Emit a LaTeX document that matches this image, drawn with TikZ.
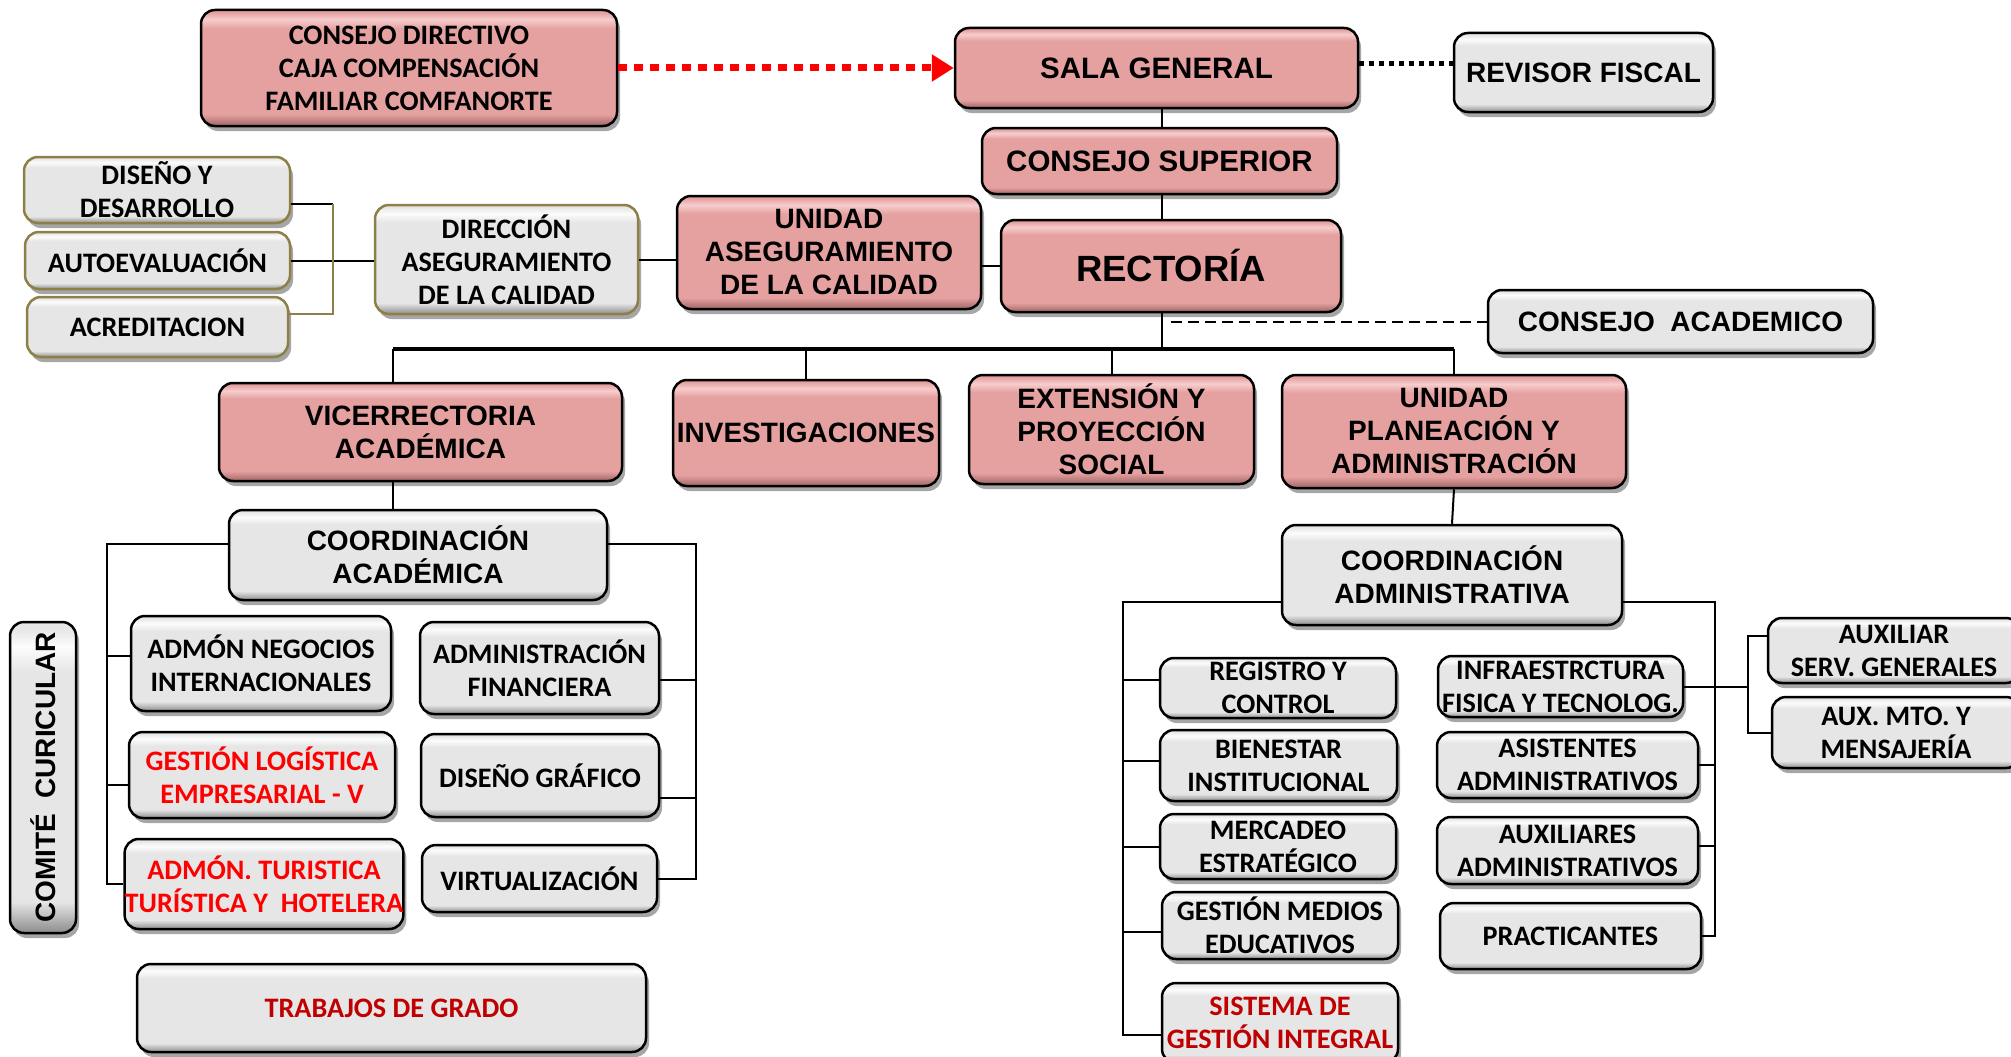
\documentclass[tikz,border=0pt]{standalone}
\usepackage{fontspec}
\newfontfamily\arialf{Liberation Sans}
\newfontfamily\calf{Carlito}
\usetikzlibrary{arrows.meta,shadows}

\definecolor{unitpink}{RGB}{229,160,160}
\definecolor{pinklight}{RGB}{247,205,205}
\definecolor{pinkdark}{RGB}{160,100,100}
\definecolor{unitgray}{RGB}{230,230,230}
\definecolor{graylight}{RGB}{252,252,252}
\definecolor{graydark}{RGB}{140,140,140}
\definecolor{qualline}{RGB}{140,128,72}
\definecolor{alertred}{RGB}{255,0,0}
\definecolor{darkred}{RGB}{192,0,0}

\pgfdeclareverticalshading{pinkbevel}{100bp}{color(0bp)=(pinkdark); color(25bp)=(pinkdark);
  color(30bp)=(unitpink); color(67bp)=(unitpink); color(71bp)=(pinklight); color(74bp)=(unitpink); color(100bp)=(unitpink)}
\pgfdeclareverticalshading{graybevel}{100bp}{color(0bp)=(graydark); color(25bp)=(graydark);
  color(30bp)=(unitgray); color(67bp)=(unitgray); color(71bp)=(graylight); color(74bp)=(unitgray); color(100bp)=(unitgray)}

\tikzset{
  unit/.style={draw=black, line width=2.5pt, rounded corners=14pt, align=center, inner sep=0pt,
    drop shadow={shadow xshift=3pt, shadow yshift=-5pt, opacity=.35, fill=black}},
  pinkunit/.style={unit, shading=pinkbevel},
  grayunit/.style={unit, shading=graybevel},
  qualunit/.style={grayunit, draw=qualline},
  ar/.style={font=\arialf\bfseries\fontsize{#1}{33}\selectfont}, ar/.default=28,
  ca/.style={font=\calf\bfseries\fontsize{#1}{33}\selectfont}, ca/.default=28.2,
  wh/.style 2 args={minimum width=#1pt, minimum height=#2pt},
  link/.style={line width=2pt},
  bus/.style={line width=4.5pt},
}

\begin{document}
\begin{tikzpicture}[x=1pt,y=-1pt]
\useasboundingbox (0,0) rectangle (2011,1057);
\fill[white] (0,0) rectangle (2011,1057);
\clip (0,0) rectangle (2011,1057);

% direccion general
\node[pinkunit, ca, wh={416}{116}] (directivo) at (409,68) {CONSEJO DIRECTIVO\\CAJA COMPENSACIÓN\\FAMILIAR COMFANORTE};
\node[pinkunit, ar=29.5, wh={403}{80}] (sala) at (1156.5,68) {SALA GENERAL};
\node[grayunit, ar, wh={259}{79}] (revisor) at (1583.5,72.5) {REVISOR FISCAL};
\node[pinkunit, ar=29.5, wh={355}{66}] (superior) at (1159.5,161) {CONSEJO SUPERIOR};
\node[pinkunit, ar=36.5, wh={340}{92}] (rectoria) at (1171,266) {RECTORÍA};
\node[grayunit, ar, wh={385}{63}] (academico) at (1680.5,321.5) {CONSEJO\ \ ACADEMICO};

% calidad
\node[pinkunit, ar, wh={304}{113}] (ucalidad) at (829,252.5) {UNIDAD\\ASEGURAMIENTO\\DE LA CALIDAD};
\node[qualunit, ca, wh={263}{109}] (dcalidad) at (506.5,259.5) {DIRECCIÓN\\ASEGURAMIENTO\\DE LA CALIDAD};
\node[qualunit, ca, wh={266}{66}] (diseno) at (157,190) {DISEÑO Y\\DESARROLLO};
\node[qualunit, ca, wh={265}{57}] (autoeval) at (157.5,260.5) {AUTOEVALUACIÓN};
\node[qualunit, ca, wh={261}{60}] (acredita) at (157.5,327) {ACREDITACION};

% segundo nivel
\node[pinkunit, ar, wh={403}{98}] (vice) at (420.5,432) {VICERRECTORIA\\ACADÉMICA};
\node[pinkunit, ar, wh={266}{106}] (invest) at (806,433) {INVESTIGACIONES};
\node[pinkunit, ar, wh={285}{109}] (extension) at (1111.5,429.5) {EXTENSIÓN Y\\PROYECCIÓN\\SOCIAL};
\node[pinkunit, ar, wh={344}{113}] (planea) at (1454,431.5) {UNIDAD\\PLANEACIÓN Y\\ADMINISTRACIÓN};

% area academica
\node[grayunit, ar, wh={378}{90}] (coordac) at (418,555) {COORDINACIÓN\\ACADÉMICA};
\node[grayunit, ca, wh={260}{95}] (negocios) at (261,663.5) {ADMÓN NEGOCIOS\\INTERNACIONALES};
\node[grayunit, ca, wh={266}{86}, text=alertred] (logistica) at (262,775) {GESTIÓN LOGÍSTICA\\EMPRESARIAL - V};
\node[grayunit, ca, wh={278}{90}, text=alertred] (turistica) at (264,884) {ADMÓN. TURISTICA\\TURÍSTICA Y\ \ HOTELERA};
\node[grayunit, ca, wh={239}{92}] (financiera) at (539.5,668) {ADMINISTRACIÓN\\FINANCIERA};
\node[grayunit, ca, wh={238}{83}] (grafico) at (540,775.5) {DISEÑO GRÁFICO};
\node[grayunit, ca, wh={235}{67}] (virtual) at (539.5,878.5) {VIRTUALIZACIÓN};
\node[grayunit, ar, wh={66}{311}] (comite) at (43,777.5) {\rotatebox{90}{COMITÉ\ \ CURICULAR}};
\node[grayunit, ca, wh={509}{88}, text=darkred] (trabajos) at (391.5,1008) {TRABAJOS DE GRADO};

% area administrativa
\node[grayunit, ar, wh={340}{100}] (coordadm) at (1452,575) {COORDINACIÓN\\ADMINISTRATIVA};
\node[grayunit, ca, wh={236}{60}] (registro) at (1278,688) {REGISTRO Y\\CONTROL};
\node[grayunit, ca, wh={237}{71}] (bienestar) at (1278.5,765.5) {BIENESTAR\\INSTITUCIONAL};
\node[grayunit, ca, wh={236}{65}] (mercadeo) at (1278,846.5) {MERCADEO\\ESTRATÉGICO};
\node[grayunit, ca, wh={236}{67}] (medios) at (1280,925.5) {GESTIÓN MEDIOS\\EDUCATIVOS};
\node[grayunit, ca, wh={236}{80}, text=darkred] (sistema) at (1280,1023) {SISTEMA DE\\GESTIÓN INTEGRAL};
\node[grayunit, ca, wh={245}{61}] (infra) at (1560.5,686.5) {INFRAESTRCTURA\\FISICA Y TECNOLOG.};
\node[grayunit, ca, wh={261}{66}] (asist) at (1567.5,765) {ASISTENTES\\ADMINISTRATIVOS};
\node[grayunit, ca, wh={261}{67}] (auxadm) at (1567.5,850.5) {AUXILIARES\\ADMINISTRATIVOS};
\node[grayunit, ca, wh={261}{66}] (practic) at (1570.5,936) {PRACTICANTES};
\node[grayunit, ca, wh={252}{65}] (servgen) at (1894,650.5) {AUXILIAR\\SERV. GENERALES};
\node[grayunit, ca, wh={248}{71}] (mto) at (1896,732.5) {AUX. MTO. Y\\MENSAJERÍA};

% lineas de mando
\coordinate (spine) at (1162,0);
\coordinate (busL) at (393,349);
\coordinate (dashstart) at (1171,0);
\draw[link] (spine |- sala.south) -- (spine |- superior.north);
\draw[link] (spine |- superior.south) -- (spine |- rectoria.north);
\draw[link] (spine |- rectoria.south) -- (spine |- busL);
\draw[bus] (busL) -- (busL -| planea.north);
\draw[link] (busL) -- (busL |- vice.north);
\draw[link] (busL -| invest.north) -- (invest.north);
\draw[link] (busL -| extension.north) -- (extension.north);
\draw[link] (busL -| planea.north) -- (planea.north);
\draw[link, dash pattern=on 11pt off 6pt] (dashstart |- academico.west) -- (academico.west);
\draw[line width=5pt, dash pattern=on 5pt off 5pt] ([yshift=4pt]sala.east) -- ([yshift=4pt]sala.east -| revisor.west);
\draw[line width=7pt, alertred, dash pattern=on 9pt off 7pt, -{Triangle[length=22pt,width=26pt]}] (directivo.east) -- (sala.west);

% calidad
\coordinate (qtop) at (333,204);
\coordinate (qbot) at (333,314);
\draw[link] (autoeval.east) -- (autoeval.east -| dcalidad.west);
\draw[link] (diseno.east |- qtop) -- (qtop);
\draw[link, qualline] (qtop) -- (qbot) -- (qbot -| acredita.east);
\draw[link] (dcalidad.east) -- (dcalidad.east -| ucalidad.west);
\draw[link] (rectoria.west) -- (rectoria.west -| ucalidad.east);

% academica
\coordinate (acL) at (107,544);
\coordinate (acR) at (696,544);
\draw[link] (busL |- vice.south) -- (busL |- coordac.north);
\draw[link] (acL -| coordac.west) -- (acL) -- (acL |- turistica.west) -- (turistica.west);
\draw[link] ([yshift=8pt]negocios.west) -| (acL);
\draw[link] ([yshift=-10pt]logistica.west) -| (acL);
\draw[link] (acR -| coordac.east) -- (acR) -- (acR |- virtual.east) -- (virtual.east);
\draw[link] ([yshift=-12pt]financiera.east) -| (acR);
\draw[link] ([yshift=-22pt]grafico.east) -| (acR);

% administrativa
\coordinate (admL) at (1123,602);
\coordinate (admR) at (1715,602);
\coordinate (auxbrk) at (1748,635);
\draw[link] (planea.south) -- (coordadm.north);
\draw[link] ([yshift=-12pt]sistema.west) -| (admL) -- (admL -| coordadm.west);
\draw[link] ([yshift=8pt]registro.west) -| (admL);
\draw[link] ([yshift=5pt]bienestar.west) -| (admL);
\draw[link] (mercadeo.west) -| (admL);
\draw[link] ([yshift=-6pt]medios.west) -| (admL);
\draw[link] (practic.east) -| (admR) -- (admR -| coordadm.east);
\draw[link] (asist.east) -| (admR);
\draw[link] ([yshift=5pt]auxadm.east) -| (admR);
\draw[link] (infra.east) -- (infra.east -| auxbrk);
\draw[link] ([yshift=15pt]servgen.west) -| (auxbrk |- mto.west) -- (mto.west);

\end{tikzpicture}
\end{document}
